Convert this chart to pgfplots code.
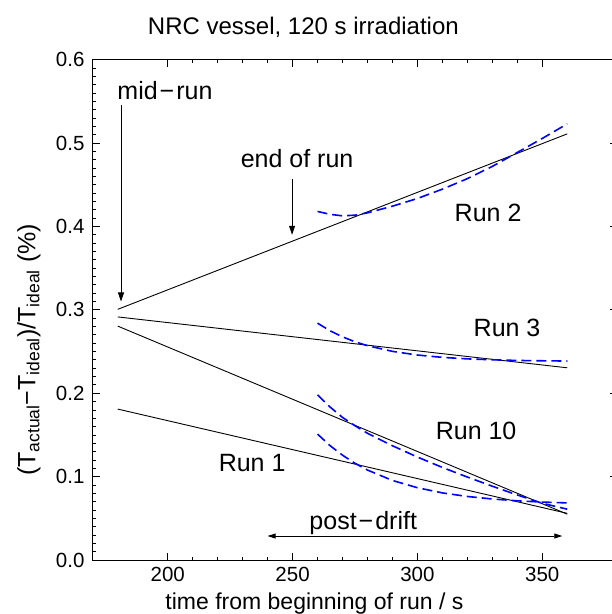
\documentclass[border=0pt]{standalone}
\usepackage{fontspec}
\setmainfont{Liberation Sans}
\usepackage{pgfplots}
\pgfplotsset{compat=1.18}
\usetikzlibrary{arrows.meta}

\newcommand{\fs}[1]{\fontsize{#1}{#1}\selectfont}

\begin{document}
\begin{tikzpicture}
\begin{axis}[
    scale only axis,
    width=524.4pt, height=500.4pt,
    xmin=170, xmax=380,
    ymin=0, ymax=0.6,
    xtick={200,250,300,350},
    ytick={0,0.1,...,0.6},
    minor x tick num=4,
    minor y tick num=9,
    tick align=inside,
    major tick length=7pt,
    minor tick length=3.5pt,
    axis line style={line width=1pt},
    every tick/.style={black, line width=0.8pt},
    tick label style={font=\fs{20.5}},
    /pgf/number format/assume math mode=true,
    yticklabel style={/pgf/number format/fixed, /pgf/number format/fixed zerofill, /pgf/number format/precision=1, xshift=-4.8pt},
    xticklabel style={yshift=-3.9pt},
    title={NRC vessel, 120 s irradiation},
    title style={font=\fs{24}, at={(axis description cs:0.4016,1.052)}, anchor=center},
    xlabel={time from beginning of run / s},
    xlabel style={font=\fs{23}, at={(axis description cs:0.4226,-0.098)}, anchor=base},
    ylabel={(T\textsubscript{actual}−T\textsubscript{ideal})/T\textsubscript{ideal} (\%)},
    ylabel style={font=\fs{25}, at={(axis description cs:-0.122,0.42)}, anchor=center},
]
% fitted drift lines
\addplot[black, line width=0.9pt] coordinates {(180,0.3006) (360,0.511)};
\addplot[black, line width=0.9pt] coordinates {(180,0.2915) (360,0.2305)};
\addplot[black, line width=0.9pt] coordinates {(180,0.2805) (360,0.055)};
\addplot[black, line width=0.9pt] coordinates {(180,0.181) (360,0.056)};

% post-drift curves
\pgfplotsset{postdrift/.style={blue, line width=1.6pt, dash pattern=on 10pt off 5pt}}
\addplot[postdrift] coordinates {
 (260,0.418) (265,0.4145) (270,0.4127) (275,0.4135) (280,0.4163) (290,0.4243)
 (300,0.4335) (310,0.4447) (320,0.4573) (330,0.472) (340,0.4887) (350,0.5055) (360,0.523)};
\addplot[postdrift] coordinates {
 (260,0.284) (265,0.2749) (270,0.2676) (275,0.2617) (280,0.2570) (290,0.2502)
 (300,0.2458) (310,0.2430) (320,0.2412) (330,0.2401) (340,0.2393) (350,0.2389) (360,0.2386)};
\addplot[postdrift] coordinates {
 (260,0.198) (265,0.1835) (270,0.171) (275,0.161) (280,0.152) (290,0.137)
 (300,0.1235) (310,0.111) (320,0.0995) (330,0.0885) (340,0.078) (350,0.068) (360,0.061)};
\addplot[postdrift] coordinates {
 (260,0.151) (265,0.1372) (270,0.1257) (275,0.1160) (280,0.1079) (290,0.0954)
 (300,0.0867) (310,0.0805) (320,0.0762) (330,0.0732) (340,0.0710) (350,0.0695) (360,0.0685)};

% annotations
\node[font=\fs{25}, anchor=base] at (axis cs:198.9,0.552) {mid\kern2pt−\kern2pt run};
\draw[line width=0.8pt, -{Triangle[length=9pt,width=6pt]}] (axis cs:181.3,0.545) -- (axis cs:181.3,0.31);
\node[font=\fs{25}] at (axis cs:251.8,0.481) {end of run};
\draw[line width=0.8pt, -{Triangle[length=9pt,width=6pt]}] (axis cs:249.8,0.457) -- (axis cs:249.8,0.39);
\node[font=\fs{25}] at (axis cs:328.3,0.416) {Run 2};
\node[font=\fs{25}] at (axis cs:335.9,0.278) {Run 3};
\node[font=\fs{25}] at (axis cs:323.5,0.155) {Run 10};
\node[font=\fs{25}] at (axis cs:233.8,0.116) {Run 1};
\node[font=\fs{25}] at (axis cs:278.3,0.0447) {post\kern2pt−\kern2pt drift};
\draw[line width=0.8pt, {Triangle[length=8pt,width=5pt]}-{Triangle[length=8pt,width=5pt]}] (axis cs:240,0.0288) -- (axis cs:358,0.0288);

% frame of the reference picture
\coordinate (bbSW) at (axis cs:132.84,-0.0647);
\coordinate (bbNE) at (axis cs:377.53,0.6715);
\end{axis}
\pgfresetboundingbox
\path[use as bounding box] (bbSW) rectangle (bbNE);
\end{tikzpicture}
\end{document}
